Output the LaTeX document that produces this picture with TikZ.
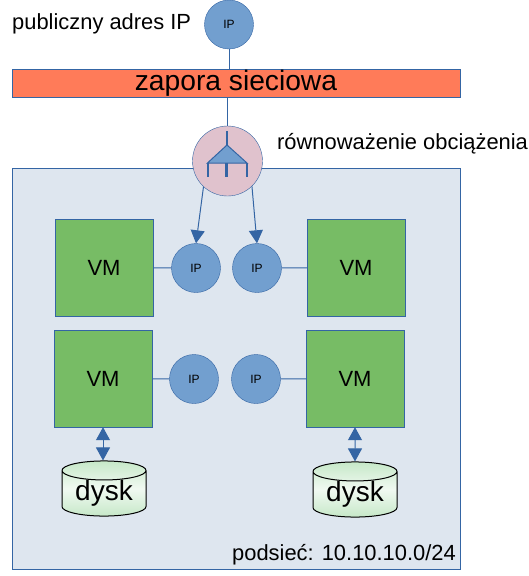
\documentclass[tikz,border=0pt]{standalone}
\usepackage{fontspec}
\setmainfont{Liberation Sans}
\usetikzlibrary{arrows.meta,shapes.geometric}
\definecolor{edgeblue}{HTML}{3465A4}
\definecolor{ipblue}{HTML}{729FCF}
\definecolor{netblue}{HTML}{DEE6EF}
\definecolor{wallred}{HTML}{FF7B59}
\definecolor{vmgreen}{HTML}{77BC65}
\definecolor{lbpink}{HTML}{E0C2CD}
\definecolor{diskgreen}{HTML}{C6E8C8}
\tikzset{
  ipnode/.style={circle,draw=edgeblue,fill=ipblue,minimum size=49pt,inner sep=0pt,font=\fontsize{12}{12}\selectfont},
  vmnode/.style={rectangle,draw=edgeblue,fill=vmgreen,minimum width=98pt,minimum height=97pt,inner sep=0pt,font=\fontsize{22}{22}\selectfont},
  disknode/.style={cylinder,shape border rotate=90,aspect=0.33,anchor=shape center,draw=black,line width=1pt,top color=diskgreen,bottom color=diskgreen,middle color=diskgreen!25,minimum width=84pt,minimum height=53pt,inner sep=0pt,font=\fontsize{28}{28}\selectfont},
  link/.style={draw=edgeblue,line width=1pt},
  onearrow/.style={link,-{Triangle[width=14pt,length=13pt]}},
  twoarrow/.style={link,{Triangle[width=14pt,length=13pt]}-{Triangle[width=14pt,length=13pt]}}
}
\begin{document}
\begin{tikzpicture}[x=1pt,y=-1pt]
  \useasboundingbox (0,0) rectangle (528,576);
  % subnet and firewall
  \node[rectangle,draw=edgeblue,fill=netblue,minimum width=448pt,minimum height=401pt,inner sep=0pt] (subnet) at (236,368.5) {};
  \node[rectangle,draw=edgeblue,fill=wallred,minimum width=448pt,minimum height=28pt,inner sep=0pt,font=\fontsize{28.2}{28.2}\selectfont] (wall) at (236,83) {zapora sieciowa};
  \node[ipnode] (pubip) at (229,24.5) {IP};
  \node[circle,draw=edgeblue,fill=lbpink,minimum size=70pt,inner sep=0pt] (lb) at (227.5,161) {};
  \draw[link] (pubip.south) -- (pubip.south |- wall.north);
  \draw[link] (lb.north |- wall.south) -- (lb.north);
  % load balancer icon
  \draw[edgeblue,line width=2.5pt] (227,131) -- (227,146);
  \draw[edgeblue,fill=ipblue,line width=1pt] (227,145) -- (207.5,163) -- (247,163) -- cycle;
  \foreach \x in {208,226.5,247}
    {
      \draw[edgeblue,line width=2.5pt] (\x,163) -- (\x,176.5);
    }
  % machines
  \node[vmnode] (vma) at (104,267.5) {VM};
  \node[vmnode] (vmb) at (356,267.5) {VM};
  \node[vmnode] (vmc) at (103,378.5) {VM};
  \node[vmnode] (vmd) at (355,378.5) {VM};
  \node[ipnode] (ipa) at (196,268) {IP};
  \node[ipnode] (ipb) at (257,268) {IP};
  \node[ipnode] (ipc) at (194,379) {IP};
  \node[ipnode] (ipd) at (256,379) {IP};
  \draw[link] (vma) -- (ipa);
  \draw[link] (vmb) -- (ipb);
  \draw[link] (vmc) -- (ipc);
  \draw[link] (vmd) -- (ipd);
  \draw[onearrow] (lb.227) -- (ipa.north);
  \draw[onearrow] (lb.314) -- (ipb.north);
  % disks
  \node[disknode] (diska) at (104,488.5) {dysk};
  \node[disknode,minimum height=51pt] (diskb) at (355,489.5) {dysk};
  \draw[twoarrow] (vmc.south) -- (vmc.south |- diska.north);
  \draw[twoarrow] (vmd.south) -- (diskb.north);
  % labels
  \node[anchor=base west,inner sep=0pt,font=\fontsize{21.9}{22}\selectfont] (publabel) at (12,29) {publiczny adres IP};
  \node[anchor=base west,inner sep=0pt,font=\fontsize{21.9}{22}\selectfont] (lblabel) at (277,149) {równoważenie obciążenia};
  \node[anchor=base east,inner sep=0pt,font=\fontsize{21.9}{22}\selectfont] (netlabel) at (456,560) {podsieć: 10.10.10.0/24};
\end{tikzpicture}
\end{document}
